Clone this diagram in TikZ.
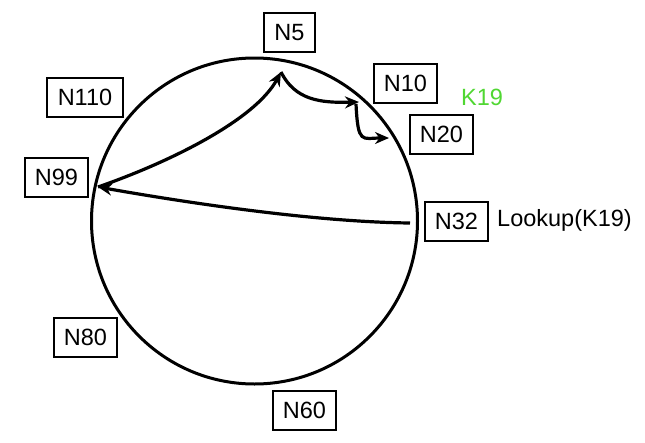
\documentclass[tikz,border=0pt]{standalone}
\usepackage{fontspec}
\setmainfont{Liberation Sans}
\usetikzlibrary{arrows.meta}
\definecolor{keygreen}{RGB}{80,215,50}
\tikzset{
  nbox/.style={draw, line width=1.1pt, minimum height=39pt, inner xsep=0pt, font=\fontsize{23.5}{25}\selectfont},
  ring/.style={line width=3pt},
  hop/.style={line width=3.2pt, -{Stealth[length=14pt,width=12pt]}},
  lbl/.style={font=\fontsize{23.5}{25}\selectfont, inner sep=0pt}
}
\begin{document}
\begin{tikzpicture}[x=1pt,y=-1pt]
\useasboundingbox (0,0) rectangle (645,442);
\fill[white] (0,0) rectangle (645,442);
% ring
\draw[ring] (254.5,221) circle[radius=163];
% node boxes
\node[nbox, minimum width=51pt] (n5) at (289.5,32.5) {N5};
\node[nbox, minimum width=63pt] (n10) at (405.5,83.5) {N10};
\node[nbox, minimum width=63pt] (n20) at (441.5,134.5) {N20};
\node[nbox, minimum width=63pt] (n32) at (456.5,221.5) {N32};
\node[nbox, minimum width=63pt] (n60) at (304.5,410.5) {N60};
\node[nbox, minimum width=63pt] (n80) at (85.5,337.5) {N80};
\node[nbox, minimum width=63pt] (n99) at (56.5,177.5) {N99};
\node[nbox, minimum width=76pt] (n110) at (85,97.5) {N110};
% labels
\node[lbl, text=keygreen] (k19) at (482,97.5) {K19};
\node[lbl, anchor=west] (lookup) at (497,220) {Lookup(K19)};
% hop points
\coordinate (p32) at (410,223);
\coordinate (p99) at (98,187);
\coordinate (p5) at (281,72);
\coordinate (p10) at (359,102);
\coordinate (p10b) at (356,104);
\coordinate (p20) at (389,138);
% routing arrows
\draw[hop] (p32) .. controls (320,222) and (200,205) .. (p99);
\draw[hop] (p99) .. controls (170,162) and (255,120) .. (p5);
\draw[hop] (p5) .. controls (295,100) and (320,103) .. (p10);
\draw[hop] (p10b) .. controls (358,145) and (362,138) .. (p20);
\end{tikzpicture}
\end{document}
